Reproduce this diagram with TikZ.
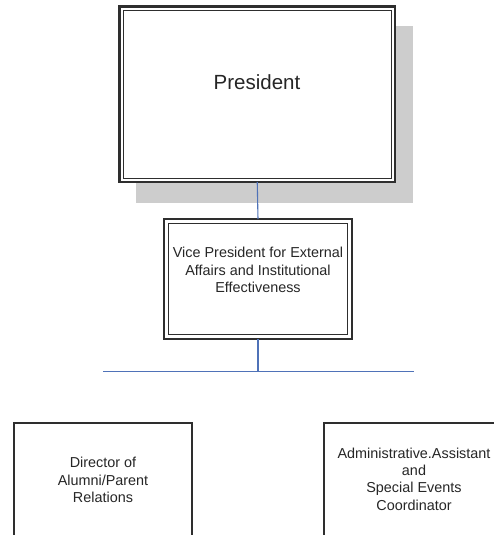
\documentclass[tikz,border=0pt]{standalone}
\usepackage{fontspec}
\setmainfont{Liberation Sans}
\definecolor{edge}{HTML}{2E2E2E}
\definecolor{shadowgray}{HTML}{CDCDCD}
\definecolor{connblue}{HTML}{4F72B8}
\begin{document}
\begin{tikzpicture}[x=1pt,y=-1pt,
  outerbox/.style={draw=edge, line width=2.4pt, fill=white, inner sep=0pt, outer sep=0pt, align=center},
  innerline/.style={draw=edge, line width=0.9pt},
  plainbox/.style={draw=edge, line width=2pt, fill=white, inner sep=0pt, outer sep=0pt},
  conn/.style={draw=connblue, line width=1.1pt},
  labeltext/.style={font=\fontsize{14.4}{17.4}\selectfont, text=black!85, align=center}
]
\useasboundingbox (0,0) rectangle (494,535);
\clip (0,0) rectangle (494,535);
\fill[white] (0,0) rectangle (494,535);

% President
\fill[shadowgray] (136,26) rectangle (413,203);
\node[outerbox, minimum width=275.5pt, minimum height=175.5pt] (pres) at (257.25,94.25) {};
\draw[innerline] ([shift={(4,4)}]pres.north west) rectangle ([shift={(-4,-4)}]pres.south east);
\node[font=\fontsize{20.5}{24}\selectfont, text=black!85] (prestext) at (257,82) {President};

% Vice President
\node[outerbox, minimum width=187.6pt, minimum height=119.6pt] (vp) at (258,279) {};
\draw[innerline] ([shift={(4,4)}]vp.north west) rectangle ([shift={(-4,-4)}]vp.south east);
\node[labeltext] (vptext) at (258,270) {Vice President for External\\Affairs and Institutional\\Effectiveness};

% Lower boxes
\node[plainbox, minimum width=178pt, minimum height=140pt, anchor=north] (dir) at (103,423) {};
\node[labeltext] (dirtext) at (103,480) {Director of\\Alumni/Parent\\Relations};
\node[plainbox, minimum width=180pt, minimum height=140pt, anchor=north] (aa) at (414,423) {};
\node[labeltext] (aatext) at (414,479) {Administrative.Assistant\\and\\Special Events\\Coordinator};

% Connectors
\draw[conn] (pres.south) -- (vp.north);
\draw[conn] (vp.south) -- ++(0,33) coordinate (junc);
\draw[conn] (junc -| dir.north) -- (junc -| aa.north);
\end{tikzpicture}
\end{document}
